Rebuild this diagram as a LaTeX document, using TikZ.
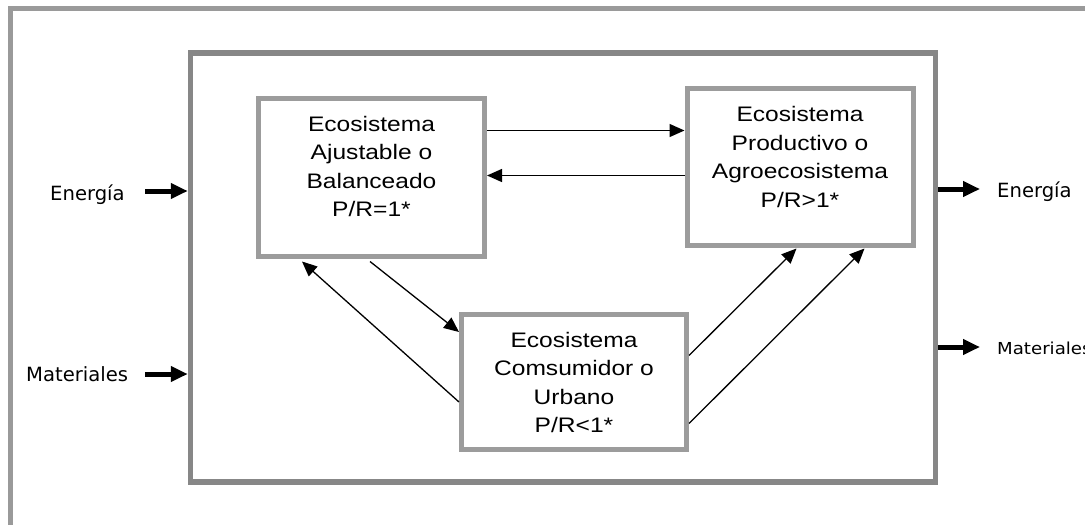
\documentclass[tikz,border=0pt]{standalone}
\usepackage{fontspec}
\usetikzlibrary{arrows.meta}
\newfontfamily\boxfont[FakeStretch=1.17]{Liberation Sans}
\newfontfamily\lblfont{DejaVu Sans}
\newfontfamily\lblwidefont[FakeStretch=1.1]{DejaVu Sans}
\definecolor{framegray}{HTML}{9A9A9A}
\definecolor{maingray}{HTML}{878787}
\definecolor{boxgray}{HTML}{9C9C9C}
\tikzset{
  ecobox/.style={draw=boxgray, line width=5pt, inner sep=0pt},
  ecotext/.style={font=\boxfont\fontsize{21pt}{28.5pt}\selectfont, align=center, inner sep=0pt, anchor=north},
  lbl/.style={font=\lblfont\fontsize{19.6pt}{23pt}\selectfont, inner sep=0pt, anchor=base west},
  thinarrow/.style={line width=1.3pt, -{Triangle[length=15pt,width=13pt]}},
  thickarrow/.style={line width=5pt, -{Triangle[length=17pt,width=15pt]}}
}
\begin{document}
\begin{tikzpicture}[x=1pt,y=-1pt]
\useasboundingbox (0,0) rectangle (1085,525);
\fill[white] (0,0) rectangle (1085,525);
\clip (0,0) rectangle (1085,525);
% outer frame
\draw[framegray, line width=5pt] (10,8.5) rectangle (1095,527.5);
% main system box
\node[draw=maingray, line width=5.5pt, inner sep=0pt, minimum width=745pt, minimum height=429pt] (M) at (563,267.5) {};
% ecosystem boxes
\node[ecobox, minimum width=226pt, minimum height=158pt] (A) at (371.5,177.5) {};
\node[ecobox, minimum width=226pt, minimum height=157pt] (P) at (800,167) {};
\node[ecobox, minimum width=225pt, minimum height=135pt] (C) at (574,382) {};
\node[ecotext] (At) at (371.5,116) {Ecosistema\\Ajustable o\\Balanceado\\P/R=1*};
\node[ecotext] (Pt) at (800,106.5) {Ecosistema\\Productivo o\\Agroecosistema\\P/R>1*};
\node[ecotext] (Ct) at (574,332) {Ecosistema\\Comsumidor o\\Urbano\\P/R<1*};
% labels
\node[lbl] (Ein) at (50,200) {Energía};
\node[lbl] (Min) at (26,381) {Materiales};
\node[lbl] (Eout) at (997,197) {Energía};
\node[lbl, font=\lblwidefont\fontsize{16.5pt}{20pt}\selectfont] (Mout) at (997,354) {Materiales};
% inputs / outputs
\coordinate (ein) at (145,191);
\coordinate (min) at (145,374);
\coordinate (eout) at (980,189);
\coordinate (mout) at (980,347);
\draw[thickarrow] (ein) -- (ein -| M.west);
\draw[thickarrow] (min) -- (min -| M.west);
\draw[thickarrow] (eout -| M.east) -- (eout);
\draw[thickarrow] (mout -| M.east) -- (mout);
% internal flows
\draw[thinarrow] ([yshift=-34.5pt]A.north east) -- ([yshift=-34.5pt]A.north east -| P.west);
\draw[thinarrow] ([yshift=-79.5pt]A.north east -| P.west) -- ([yshift=-79.5pt]A.north east);
\draw[thinarrow] ([xshift=-1.5pt,yshift=-2.5pt]A.south) -- ([yshift=-20pt]C.north west);
\draw[thinarrow] ([yshift=-90pt]C.north west) -- ([xshift=46pt,yshift=-2.5pt]A.south west);
\draw[thinarrow] ([yshift=-43.5pt]C.north east) -- ([xshift=112pt,yshift=-0.5pt]P.south west);
\draw[thinarrow] ([yshift=-111.5pt]C.north east) -- ([xshift=180pt,yshift=-0.5pt]P.south west);
\end{tikzpicture}
\end{document}
